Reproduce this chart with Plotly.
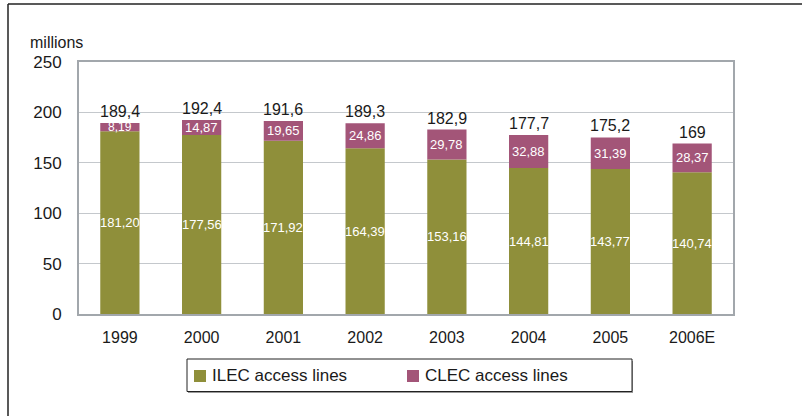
import plotly.graph_objects as go

# Access lines in the US, millions
years = ["1999", "2000", "2001", "2002", "2003", "2004", "2005", "2006E"]
ilec = [181.20, 177.56, 171.92, 164.39, 153.16, 144.81, 143.77, 140.74]
clec = [8.19, 14.87, 19.65, 24.86, 29.78, 32.88, 31.39, 28.37]
totals = [189.4, 192.4, 191.6, 189.3, 182.9, 177.7, 175.2, 169]

ILEC_COLOR = "#8F8F3A"
CLEC_COLOR = "#A35578"
FONT = "Liberation Sans, Arial, sans-serif"


def dec(v, fmt):
    return format(v, fmt).replace(".", ",")


fig = go.Figure()
fig.add_bar(x=years, y=ilec, name="ILEC access lines", marker_color=ILEC_COLOR,
            marker_line_width=0, width=0.48, hoverinfo="skip")
fig.add_bar(x=years, y=clec, name="CLEC access lines", marker_color=CLEC_COLOR,
            marker_line_width=0, width=0.48, base=ilec, hoverinfo="skip")

annotations = []
for i, (a, b, t) in enumerate(zip(ilec, clec, totals)):
    # ILEC value in the middle of the olive segment
    annotations.append(dict(x=i, y=a / 2, text=dec(a, ".2f"), showarrow=False,
                            font=dict(family=FONT, size=13, color="white")))
    # CLEC value in the middle of the purple segment
    annotations.append(dict(x=i, y=a + b / 2, text=dec(b, ".2f"), showarrow=False,
                            font=dict(family=FONT, size=13 if b > 10 else 12, color="white")))
    # total above the stack
    annotations.append(dict(x=i, y=a + b, text=dec(t, "g"), showarrow=False,
                            yanchor="bottom", yshift=1,
                            font=dict(family=FONT, size=16, color="#1a1a1a")))

# Plot area spans x 79..733 px, y 62..314 px
L, R, T, B = 79, 733, 62, 314
W, H = R - L, B - T


def px(xp):
    return (xp - L) / W


def py(yp):
    return (B - yp) / H


# axis unit label
annotations.append(dict(xref="paper", yref="paper", x=px(56), y=py(42),
                        text="millions", showarrow=False, xanchor="center",
                        yanchor="middle", font=dict(family=FONT, size=16, color="#1a1a1a")))

shapes = [
    # outer frame: top and left rules
    dict(type="line", xref="paper", yref="paper", x0=px(8), x1=px(802), y0=py(4), y1=py(4),
         line=dict(color="#222222", width=1.5)),
    dict(type="line", xref="paper", yref="paper", x0=px(8), x1=px(8), y0=py(4), y1=py(416),
         line=dict(color="#222222", width=1.5)),
    # legend box shadow and border
    dict(type="rect", xref="paper", yref="paper", x0=px(188), x1=px(633), y0=py(361), y1=py(393),
         line=dict(width=0), fillcolor="#9a9a9a", layer="below"),
    dict(type="rect", xref="paper", yref="paper", x0=px(187), x1=px(632), y0=py(359), y1=py(391.5),
         line=dict(color="#222222", width=1), fillcolor="white"),
    # legend swatches
    dict(type="rect", xref="paper", yref="paper", x0=px(194), x1=px(206), y0=py(370), y1=py(382),
         line=dict(width=0), fillcolor=ILEC_COLOR),
    dict(type="rect", xref="paper", yref="paper", x0=px(407), x1=px(419), y0=py(370), y1=py(382),
         line=dict(width=0), fillcolor=CLEC_COLOR),
]
annotations.append(dict(xref="paper", yref="paper", x=px(210), y=py(375.5), text="ILEC access lines",
                        showarrow=False, xanchor="left", yanchor="middle",
                        font=dict(family=FONT, size=17, color="#1a1a1a")))
annotations.append(dict(xref="paper", yref="paper", x=px(423), y=py(375.5), text="CLEC access lines",
                        showarrow=False, xanchor="left", yanchor="middle",
                        font=dict(family=FONT, size=17, color="#1a1a1a")))

fig.update_layout(
    width=802, height=416,
    margin=dict(l=L, r=802 - R, t=T, b=416 - B),
    barmode="overlay",
    showlegend=False,
    paper_bgcolor="white",
    plot_bgcolor="white",
    font=dict(family=FONT, color="#1a1a1a"),
    annotations=annotations,
    shapes=shapes,
)
fig.update_xaxes(type="category", range=[-0.5, len(years) - 0.5], showline=True, mirror=True,
                 linecolor="#A2A7AC", linewidth=2, showgrid=False, ticks="",
                 tickfont=dict(size=16, family=FONT), ticklabelstandoff=8)
fig.update_yaxes(range=[0, 250], dtick=50, showline=True, mirror=True, linecolor="#A2A7AC",
                 linewidth=2, showgrid=True, gridcolor="#C4C8CC", gridwidth=1, zeroline=False,
                 ticks="", tickfont=dict(size=17, family=FONT), ticklabelstandoff=12)

fig.write_html("out.html")
